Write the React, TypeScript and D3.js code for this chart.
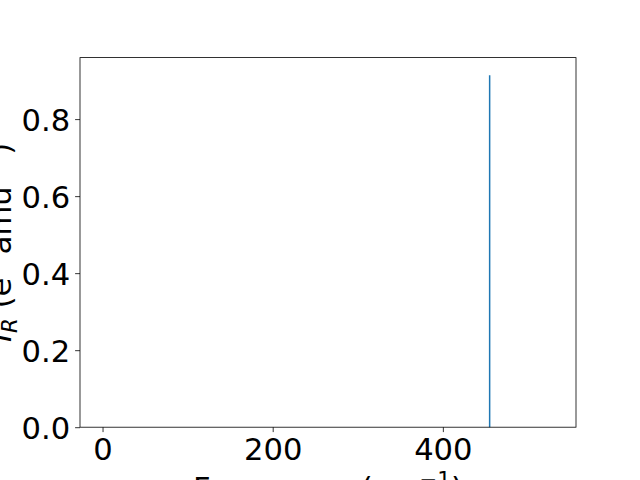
import React, { useEffect, useRef } from 'react';
import * as d3 from 'd3';

// stick spectrum: frequency (cm^-1) and IR intensity
const frequencies = [0, 455, 530];
const intensities = [0, 0.914, 0];

const xTicks = [0, 200, 400];
const yTicks = [0, 0.2, 0.4, 0.6, 0.8];

const App = () => {
  const chartRef = useRef<SVGSVGElement | null>(null);

  useEffect(() => {
    const svg = d3.select(chartRef.current)
      .attr('width', 640)
      .attr('height', 480);

    svg.selectAll('*').remove();

    const margin = { top: 57.6, right: 64, bottom: 52.8, left: 80 };
    const width = 640 - margin.left - margin.right;
    const height = 480 - margin.top - margin.bottom;
    const font = 'DejaVu Sans, sans-serif';
    const fs = 30.6;
    const sup = fs * 0.7;

    const g = svg.append('g').attr('transform', `translate(${margin.left},${margin.top})`);

    const [xmin, xmax] = d3.extent(frequencies) as [number, number];
    const xpad = (xmax - xmin) * 0.05;
    const x = d3.scaleLinear().domain([xmin - xpad, xmax + xpad]).range([0, width]);
    const ymax = d3.max(intensities) as number;
    const y = d3.scaleLinear().domain([0, ymax * 1.05]).range([height, 0]);

    // sticks
    g.selectAll('.stick')
      .data(frequencies.map((f, i) => ({ f, v: intensities[i] })).filter(d => d.v > 0))
      .enter().append('line')
      .attr('class', 'stick')
      .attr('x1', d => x(d.f))
      .attr('x2', d => x(d.f))
      .attr('y1', y(0))
      .attr('y2', d => y(d.v))
      .attr('stroke', '#1f77b4')
      .attr('stroke-width', 1.5);

    // x axis
    const xAxis = g.append('g')
      .attr('transform', `translate(0,${height})`)
      .call(d3.axisBottom(x).tickValues(xTicks).tickSize(4.9).tickPadding(4.9).tickFormat(d3.format('d')));
    xAxis.select('.domain').remove();
    xAxis.selectAll('line').attr('stroke', '#000').attr('stroke-width', 0.8);
    xAxis.selectAll('text')
      .attr('font-family', font)
      .attr('font-size', fs)
      .attr('fill', '#000')
      .attr('dy', null)
      .attr('y', 32.8);

    // y axis
    const yAxis = g.append('g')
      .call(d3.axisLeft(y).tickValues(yTicks).tickSize(4.9).tickPadding(4.9).tickFormat(d3.format('.1f')));
    yAxis.select('.domain').remove();
    yAxis.selectAll('line').attr('stroke', '#000').attr('stroke-width', 0.8);
    yAxis.selectAll('text')
      .attr('font-family', font)
      .attr('font-size', fs)
      .attr('fill', '#000')
      .attr('dy', '0.36em')
      .attr('x', -9.8);

    // frame
    g.append('rect')
      .attr('width', width)
      .attr('height', height)
      .attr('fill', 'none')
      .attr('stroke', '#000')
      .attr('stroke-width', 0.8);

    // x label
    const xl = svg.append('text')
      .attr('x', margin.left + width / 2)
      .attr('y', 499)
      .attr('text-anchor', 'middle')
      .attr('font-family', font)
      .attr('font-size', fs)
      .attr('fill', '#000');
    xl.append('tspan').text('Frequency (cm');
    xl.append('tspan').attr('dy', -12).attr('font-size', sup).text('\u22121');
    xl.append('tspan').attr('dy', 12).text(')');

    // y label
    const yl = svg.append('text')
      .attr('transform', `translate(11,${margin.top + height / 2}) rotate(-90)`)
      .attr('text-anchor', 'middle')
      .attr('font-family', font)
      .attr('font-size', fs)
      .attr('fill', '#000');
    yl.append('tspan').attr('font-style', 'italic').text('I');
    yl.append('tspan').attr('font-style', 'italic').attr('font-size', sup).attr('dy', 6).text('R');
    yl.append('tspan').attr('dy', -6).text(' (e');
    yl.append('tspan').attr('dy', -12).attr('font-size', sup).text('2');
    yl.append('tspan').attr('dy', 12).text(' amu');
    yl.append('tspan').attr('dy', -12).attr('font-size', sup).text('\u22121');
    yl.append('tspan').attr('dy', 12).text(')');
  }, []);

  return (
    <svg ref={chartRef} style={{ position: 'absolute', left: 0, top: 0, background: '#fff' }}></svg>
  );
};

export default App;
